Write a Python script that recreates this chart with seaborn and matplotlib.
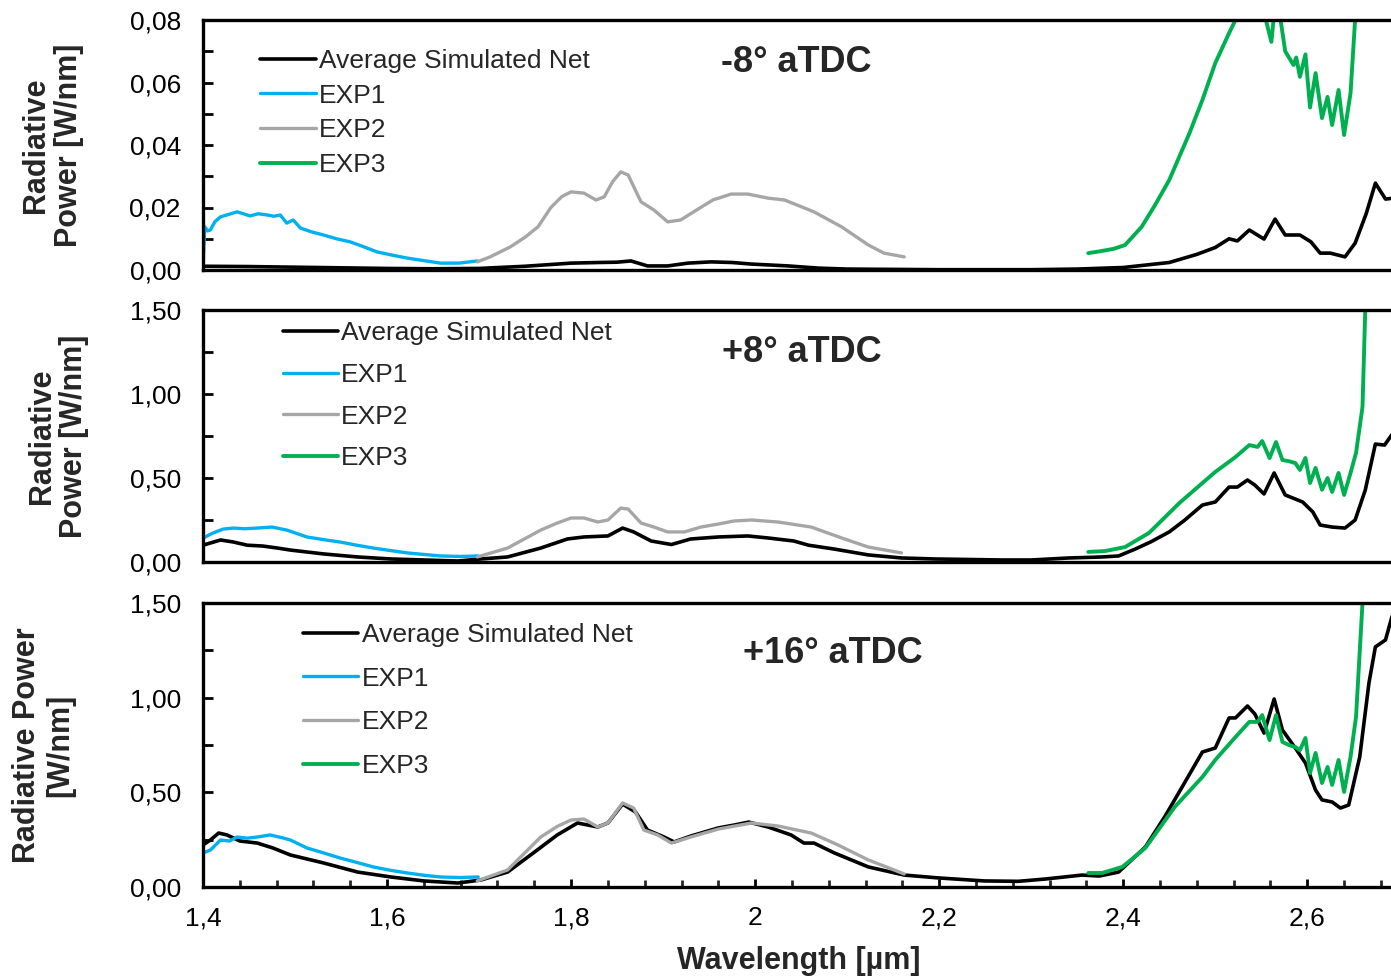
import matplotlib
matplotlib.use("Agg")
import matplotlib.pyplot as plt
from matplotlib.ticker import MultipleLocator, FuncFormatter
from matplotlib.lines import Line2D
from matplotlib import font_manager
import seaborn as sns

# ---------------- data ----------------
series_labels = ["Average Simulated Net", "EXP1", "EXP2", "EXP3"]
panel_titles = ["-8° aTDC", "+8° aTDC", "+16° aTDC"]
x_tick_values = [1.4, 1.6, 1.8, 2.0, 2.2, 2.4, 2.6]

# Panel 1 (-8° aTDC)
sim1_x = [1.40, 1.45, 1.50, 1.55, 1.60, 1.65, 1.70, 1.75, 1.78, 1.80, 1.83, 1.85, 1.865, 1.883, 1.905,
          1.927, 1.952, 1.975, 1.996, 2.036, 2.069, 2.10, 2.15, 2.20, 2.25, 2.30, 2.35, 2.40, 2.45, 2.48,
          2.50, 2.515, 2.524, 2.537, 2.553, 2.565, 2.576, 2.592, 2.604, 2.614, 2.625, 2.641, 2.652, 2.664,
          2.674, 2.685, 2.694]
sim1_y = [0.0012, 0.0011, 0.0009, 0.0007, 0.0005, 0.0004, 0.0005, 0.0012, 0.0018, 0.0022, 0.0024, 0.0025,
          0.0029, 0.0013, 0.0013, 0.0022, 0.0026, 0.0024, 0.0019, 0.0013, 0.0006, 0.0003, 0.0002, 0.0001,
          0.0001, 0.0001, 0.0003, 0.0008, 0.0024, 0.0050, 0.0072, 0.0100, 0.0093, 0.0128, 0.0099, 0.0163,
          0.0112, 0.0112, 0.0090, 0.0054, 0.0054, 0.0042, 0.0086, 0.0180, 0.0278, 0.0227, 0.0230]
exp1_1_x = [1.400, 1.401, 1.402, 1.405, 1.408, 1.413, 1.419, 1.428, 1.437, 1.444, 1.451, 1.460, 1.470,
            1.477, 1.484, 1.491, 1.498, 1.506, 1.518, 1.531, 1.545, 1.560, 1.575, 1.589, 1.605, 1.622,
            1.640, 1.658, 1.678, 1.698]
exp1_1_y = [0.000, 0.008, 0.0138, 0.0125, 0.0128, 0.0155, 0.0170, 0.0178, 0.0186, 0.0180, 0.0173, 0.0180,
            0.0176, 0.0172, 0.0176, 0.0150, 0.0160, 0.0134, 0.0122, 0.0112, 0.0100, 0.0090, 0.0074, 0.0058,
            0.0048, 0.0038, 0.0030, 0.0022, 0.0022, 0.0029]
exp2_1_x = [1.698, 1.712, 1.734, 1.750, 1.764, 1.778, 1.790, 1.800, 1.814, 1.827, 1.836, 1.845, 1.854,
            1.862, 1.876, 1.890, 1.905, 1.919, 1.938, 1.954, 1.974, 1.992, 2.014, 2.032, 2.064, 2.094,
            2.123, 2.140, 2.162]
exp2_1_y = [0.0026, 0.0042, 0.0074, 0.0105, 0.0138, 0.0200, 0.0235, 0.0250, 0.0246, 0.0224, 0.0234,
            0.0282, 0.0314, 0.0304, 0.0218, 0.0192, 0.0154, 0.0160, 0.0195, 0.0224, 0.0243, 0.0243,
            0.0230, 0.0224, 0.0186, 0.0138, 0.0080, 0.0054, 0.0042]
exp3_1_x = [2.362, 2.375, 2.390, 2.402, 2.420, 2.435, 2.450, 2.472, 2.486, 2.500, 2.515, 2.522, 2.530,
            2.540, 2.550, 2.555, 2.561, 2.565, 2.568, 2.571, 2.576, 2.585, 2.588, 2.592, 2.598, 2.603,
            2.609, 2.616, 2.622, 2.627, 2.634, 2.640, 2.647, 2.653, 2.660, 2.670]
exp3_1_y = [0.0054, 0.0060, 0.0068, 0.0080, 0.0138, 0.0210, 0.0288, 0.0438, 0.0544, 0.0662, 0.0758,
            0.0800, 0.0860, 0.0890, 0.0870, 0.0800, 0.0730, 0.0850, 0.0880, 0.0800, 0.0700, 0.0656,
            0.0680, 0.0618, 0.0690, 0.0520, 0.0630, 0.0486, 0.0554, 0.0464, 0.0576, 0.0432, 0.0566,
            0.0850, 0.1300, 0.2000]

# Panel 2 (+8° aTDC)
sim2_x = [1.400, 1.408, 1.419, 1.433, 1.448, 1.465, 1.481, 1.495, 1.531, 1.568, 1.604, 1.640, 1.677,
          1.702, 1.731, 1.767, 1.796, 1.814, 1.840, 1.856, 1.868, 1.887, 1.909, 1.930, 1.960, 1.992,
          2.014, 2.042, 2.058, 2.086, 2.123, 2.159, 2.195, 2.232, 2.268, 2.300, 2.341, 2.377, 2.395,
          2.413, 2.430, 2.450, 2.467, 2.486, 2.500, 2.515, 2.524, 2.535, 2.543, 2.553, 2.564, 2.576,
          2.595, 2.606, 2.614, 2.627, 2.641, 2.652, 2.663, 2.674, 2.684, 2.694]
sim2_y = [0.100, 0.113, 0.131, 0.119, 0.100, 0.095, 0.083, 0.071, 0.048, 0.030, 0.018, 0.012, 0.006,
          0.018, 0.030, 0.083, 0.137, 0.149, 0.155, 0.202, 0.179, 0.125, 0.104, 0.137, 0.149, 0.155,
          0.143, 0.125, 0.100, 0.077, 0.042, 0.024, 0.018, 0.015, 0.012, 0.012, 0.024, 0.030, 0.036,
          0.077, 0.120, 0.179, 0.250, 0.339, 0.357, 0.446, 0.446, 0.488, 0.458, 0.405, 0.530, 0.399,
          0.357, 0.298, 0.220, 0.208, 0.202, 0.250, 0.428, 0.702, 0.696, 0.774]
exp1_2_x = [1.400, 1.411, 1.422, 1.433, 1.445, 1.459, 1.475, 1.491, 1.513, 1.531, 1.549, 1.567, 1.585,
            1.604, 1.622, 1.640, 1.658, 1.680, 1.699]
exp1_2_y = [0.143, 0.173, 0.196, 0.202, 0.198, 0.202, 0.208, 0.190, 0.149, 0.133, 0.119, 0.100, 0.083,
            0.068, 0.054, 0.045, 0.036, 0.033, 0.036]
exp2_2_x = [1.698, 1.731, 1.767, 1.785, 1.800, 1.814, 1.829, 1.840, 1.854, 1.862, 1.876, 1.890, 1.905,
            1.923, 1.941, 1.960, 1.977, 1.996, 2.025, 2.061, 2.094, 2.123, 2.159]
exp2_2_y = [0.030, 0.083, 0.190, 0.232, 0.262, 0.262, 0.238, 0.250, 0.321, 0.315, 0.232, 0.208, 0.179,
            0.179, 0.208, 0.226, 0.244, 0.250, 0.238, 0.208, 0.143, 0.089, 0.054]
exp3_2_x = [2.362, 2.380, 2.402, 2.428, 2.461, 2.486, 2.500, 2.522, 2.537, 2.546, 2.551, 2.559, 2.566,
            2.573, 2.580, 2.587, 2.592, 2.598, 2.603, 2.609, 2.616, 2.622, 2.627, 2.634, 2.640, 2.647,
            2.653, 2.660, 2.663, 2.670]
exp3_2_y = [0.060, 0.065, 0.089, 0.173, 0.351, 0.470, 0.536, 0.625, 0.696, 0.685, 0.720, 0.619, 0.714,
            0.607, 0.600, 0.589, 0.548, 0.619, 0.470, 0.560, 0.430, 0.500, 0.417, 0.530, 0.399, 0.530,
            0.650, 0.923, 1.500, 2.200]

# Panel 3 (+16° aTDC)
sim3_x = [1.400, 1.408, 1.417, 1.426, 1.440, 1.459, 1.476, 1.495, 1.531, 1.568, 1.604, 1.640, 1.677,
          1.702, 1.731, 1.759, 1.785, 1.807, 1.829, 1.840, 1.856, 1.870, 1.883, 1.901, 1.912, 1.930,
          1.960, 1.977, 1.993, 2.014, 2.039, 2.053, 2.064, 2.086, 2.123, 2.162, 2.199, 2.249, 2.286,
          2.315, 2.340, 2.355, 2.374, 2.395, 2.424, 2.445, 2.464, 2.486, 2.500, 2.515, 2.522, 2.535,
          2.543, 2.553, 2.564, 2.573, 2.587, 2.598, 2.609, 2.616, 2.627, 2.636, 2.645, 2.657, 2.667,
          2.674, 2.685, 2.694]
sim3_y = [0.222, 0.248, 0.285, 0.275, 0.243, 0.232, 0.206, 0.169, 0.127, 0.079, 0.053, 0.032, 0.021,
          0.037, 0.079, 0.180, 0.275, 0.338, 0.317, 0.338, 0.438, 0.396, 0.301, 0.264, 0.238, 0.269,
          0.312, 0.327, 0.343, 0.317, 0.275, 0.232, 0.232, 0.180, 0.106, 0.063, 0.048, 0.032, 0.030,
          0.042, 0.055, 0.063, 0.058, 0.079, 0.211, 0.370, 0.528, 0.713, 0.734, 0.893, 0.893, 0.956,
          0.914, 0.813, 0.993, 0.829, 0.734, 0.655, 0.512, 0.460, 0.449, 0.417, 0.433, 0.687, 1.077,
          1.268, 1.305, 1.463]
exp1_3_x = [1.400, 1.408, 1.419, 1.429, 1.437, 1.448, 1.459, 1.473, 1.487, 1.495, 1.513, 1.531, 1.549,
            1.567, 1.585, 1.604, 1.622, 1.640, 1.658, 1.680, 1.699]
exp1_3_y = [0.180, 0.195, 0.248, 0.243, 0.264, 0.258, 0.264, 0.275, 0.259, 0.248, 0.206, 0.180, 0.153,
            0.130, 0.106, 0.088, 0.074, 0.062, 0.053, 0.050, 0.053]
exp2_3_x = [1.698, 1.731, 1.767, 1.785, 1.800, 1.814, 1.829, 1.840, 1.856, 1.868, 1.879, 1.894, 1.909,
            1.930, 1.960, 1.996, 2.025, 2.061, 2.090, 2.123, 2.162]
exp2_3_y = [0.032, 0.090, 0.264, 0.320, 0.354, 0.359, 0.317, 0.338, 0.444, 0.417, 0.301, 0.275, 0.232,
            0.264, 0.306, 0.338, 0.322, 0.285, 0.222, 0.143, 0.069]
exp3_3_x = [2.362, 2.377, 2.399, 2.424, 2.456, 2.486, 2.500, 2.522, 2.537, 2.546, 2.551, 2.559, 2.566,
            2.573, 2.580, 2.587, 2.592, 2.598, 2.603, 2.609, 2.616, 2.622, 2.627, 2.634, 2.640, 2.647,
            2.653, 2.660, 2.665]
exp3_3_y = [0.074, 0.074, 0.106, 0.206, 0.423, 0.581, 0.671, 0.792, 0.872, 0.872, 0.908, 0.776, 0.908,
            0.766, 0.750, 0.739, 0.723, 0.787, 0.602, 0.708, 0.549, 0.634, 0.539, 0.671, 0.502, 0.687,
            0.900, 1.500, 2.000]

# ---------------- style ----------------
sns.set_theme(style="white")
plt.rcParams["font.family"] = ["Liberation Sans", "DejaVu Sans"]

installed = {f.name for f in font_manager.fontManager.ttflist}
if "Liberation Sans Narrow" in installed:
    ylab_family = ["Liberation Sans Narrow", "Liberation Sans"]
    ylab_size = 28.5
else:
    ylab_family = ["Liberation Sans", "DejaVu Sans"]
    ylab_size = 22

colors = ["#000000", "#00B0F0", "#A6A6A6", "#00B050"]
lws = [2.6, 2.4, 2.4, 2.8]

fig = plt.figure(figsize=(13.91, 9.77), dpi=100)
W, H = 1391.0, 977.0
left_px = 203
panels_px = [(20, 270), (310, 562), (603, 887)]
ylims = [(0, 0.08), (0, 1.5), (0, 1.5)]
ymajor = [0.02, 0.5, 0.5]
yminor = [0.01, 0.25, 0.25]
ylabels = ["Radiative\nPower [W/nm]", "Radiative\nPower [W/nm]", "Radiative Power\n[W/nm]"]
ylabel_center_px = [53, 58, 44]
legend_anchor = [(0.048, 0.885), (0.067, 0.955), (0.084, 0.930)]
legend_spacing = [0.41, 0.67, 0.75]
title_pos = [(0.498, 0.828), (0.503, 0.833), (0.529, 0.823)]

data = [
    [(sim1_x, sim1_y), (exp1_1_x, exp1_1_y), (exp2_1_x, exp2_1_y), (exp3_1_x, exp3_1_y)],
    [(sim2_x, sim2_y), (exp1_2_x, exp1_2_y), (exp2_2_x, exp2_2_y), (exp3_2_x, exp3_2_y)],
    [(sim3_x, sim3_y), (exp1_3_x, exp1_3_y), (exp2_3_x, exp2_3_y), (exp3_3_x, exp3_3_y)],
]

fmt_y = FuncFormatter(lambda v, p: f"{v:.2f}".replace(".", ","))
fmt_x = FuncFormatter(lambda v, p: f"{v:g}".replace(".", ","))

for i, (top, bot) in enumerate(panels_px):
    ax = fig.add_axes([left_px / W, 1 - bot / H, (W - left_px) / W + 0.002, (bot - top) / H])
    for j, (xs, ys) in enumerate(data[i]):
        sns.lineplot(x=xs, y=ys, ax=ax, color=colors[j], linewidth=lws[j], legend=False,
                     estimator=None, sort=False)
    ax.set_xlim(1.4, 2.694)
    ax.set_ylim(*ylims[i])
    ax.yaxis.set_major_locator(MultipleLocator(ymajor[i]))
    ax.yaxis.set_minor_locator(MultipleLocator(yminor[i]))
    ax.yaxis.set_major_formatter(fmt_y)
    ax.tick_params(axis="y", which="both", direction="in", length=7, width=2,
                   left=True, right=False, labelsize=19, pad=16, colors="black")
    for side in ["left", "top", "bottom"]:
        ax.spines[side].set_linewidth(2.4)
        ax.spines[side].set_color("black")
    ax.spines["right"].set_visible(False)
    ax.set_ylabel(ylabels[i], fontsize=ylab_size, fontweight="bold", linespacing=1.1,
                  family=ylab_family)
    ax.yaxis.set_label_coords(-(left_px - ylabel_center_px[i]) / (W - left_px), 0.5)
    ax.yaxis.label.set_va("center")
    ax.set_xlabel("")
    if i < 2:
        ax.tick_params(axis="x", which="both", bottom=False, labelbottom=False)
    else:
        ax.xaxis.set_major_locator(MultipleLocator(0.2))
        ax.xaxis.set_minor_locator(MultipleLocator(0.04))
        ax.xaxis.set_major_formatter(fmt_x)
        ax.tick_params(axis="x", which="major", direction="in", length=6, width=2,
                       bottom=True, labelsize=19, pad=14, colors="black")
        ax.tick_params(axis="x", which="minor", direction="in", length=5, width=2, bottom=True)
        ax.set_xlabel("Wavelength [µm]", fontsize=22, fontweight="bold", labelpad=11)
    ax.text(title_pos[i][0], title_pos[i][1], panel_titles[i], transform=ax.transAxes,
            ha="center", va="center", fontsize=26, fontweight="bold")
    handles = [Line2D([0], [0], color=colors[k], lw=lws[k]) for k in range(4)]
    ax.legend(handles, series_labels, loc="upper left", bbox_to_anchor=legend_anchor[i],
              frameon=False, fontsize=19, handlelength=2.1, handletextpad=0.12,
              labelspacing=legend_spacing[i], borderpad=0, borderaxespad=0)
    ax.grid(False)

fig.savefig("out.png", dpi=100, facecolor="white")
